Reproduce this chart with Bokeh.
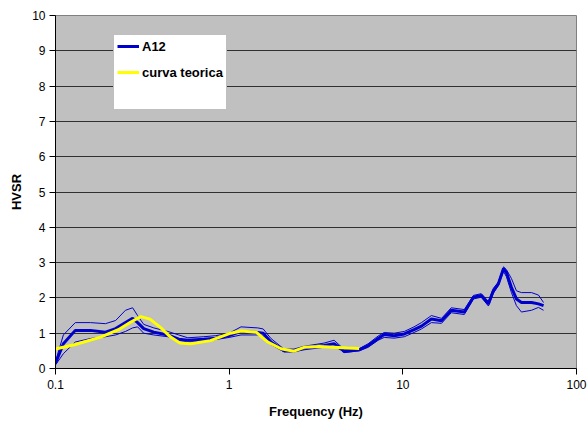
from bokeh.plotting import figure
from bokeh.models import (FixedTicker, CustomJSTickFormatter, Legend, LegendItem, Range1d)
from bokeh.embed import file_html
from bokeh.resources import INLINE

# ---- data ----
freq = [0.1, 0.111, 0.13, 0.159, 0.194, 0.222, 0.253, 0.278, 0.297, 0.322, 0.368, 0.443,
        0.513, 0.578, 0.715, 0.838, 1.0, 1.17, 1.46, 1.57, 1.74, 2.07, 2.36, 2.7, 3.52,
        4.02, 4.41, 4.59, 5.6, 6.31, 7.21, 7.81, 8.92, 10.2, 11.6, 12.8, 14.6, 16.7, 19.0,
        22.6, 25.5, 28.3, 31.1, 33.2, 35.5, 38.0, 39.5, 42.2, 45.1, 48.2, 55.1, 60.4, 64.6]
a12_mean = [0.15, 0.7, 1.08, 1.08, 1.03, 1.13, 1.3, 1.42, 1.3, 1.13, 1.03, 0.95,
            0.83, 0.8, 0.83, 0.86, 0.93, 1.05, 1.02, 1.0, 0.75, 0.5, 0.5, 0.58, 0.65,
            0.7, 0.57, 0.48, 0.53, 0.65, 0.85, 0.96, 0.93, 0.98, 1.1, 1.2, 1.4, 1.35, 1.65,
            1.6, 2.02, 2.07, 1.83, 2.2, 2.4, 2.83, 2.72, 2.3, 1.97, 1.87, 1.87, 1.83, 1.78]
a12_upper = [0.2, 0.95, 1.3, 1.3, 1.27, 1.36, 1.65, 1.72, 1.5, 1.25, 1.15, 1.05,
             0.95, 0.87, 0.9, 0.93, 1.0, 1.18, 1.15, 1.12, 0.85, 0.55, 0.55, 0.63, 0.72,
             0.8, 0.62, 0.53, 0.56, 0.7, 0.92, 1.02, 1.0, 1.05, 1.18, 1.3, 1.5, 1.42, 1.72,
             1.67, 2.07, 2.12, 1.9, 2.27, 2.45, 2.88, 2.8, 2.55, 2.2, 2.15, 2.15, 2.08, 1.87]
a12_lower = [0.1, 0.42, 0.75, 0.85, 0.9, 0.95, 1.05, 1.15, 1.18, 1.0, 0.95, 0.9,
             0.8, 0.75, 0.78, 0.82, 0.88, 0.95, 0.95, 0.92, 0.68, 0.47, 0.47, 0.53, 0.6,
             0.63, 0.52, 0.45, 0.5, 0.6, 0.8, 0.88, 0.86, 0.9, 1.02, 1.12, 1.3, 1.28, 1.58,
             1.53, 1.97, 2.02, 1.77, 2.13, 2.35, 2.75, 2.6, 2.15, 1.78, 1.6, 1.65, 1.73, 1.65]

theo_freq = [0.1, 0.13, 0.182, 0.23, 0.27, 0.31, 0.35, 0.4, 0.46, 0.52, 0.6, 0.78, 1.02,
             1.17, 1.43, 1.67, 1.99, 2.36, 2.7, 3.3, 4.0, 4.8, 5.6]
theo_hvsr = [0.55, 0.68, 0.89, 1.1, 1.31, 1.47, 1.4, 1.17, 0.89, 0.72, 0.7, 0.79, 1.0,
             1.06, 1.03, 0.75, 0.56, 0.49, 0.6, 0.62, 0.6, 0.58, 0.57]

x_ticks = [0.1, 1, 10, 100]
y_ticks = [0, 1, 2, 3, 4, 5, 6, 7, 8, 9, 10]
grid_ticks = [1, 2, 3, 4, 5, 6, 7, 8, 9]

FONT = "Liberation Sans"
BLUE = "#0000CC"
YELLOW = "#FFFF00"

p = figure(width=588, height=423, x_axis_type="log",
           x_range=Range1d(0.1, 100), y_range=Range1d(0, 10),
           output_backend="svg", toolbar_location=None,
           min_border_left=55, min_border_right=12, min_border_top=15, min_border_bottom=55)

p.background_fill_color = "#C0C0C0"
p.border_fill_color = "white"
p.outline_line_color = "#808080"
p.outline_line_width = 1

p.xgrid.visible = False
p.ygrid.ticker = FixedTicker(ticks=grid_ticks)
p.ygrid.grid_line_color = "#303030"
p.ygrid.grid_line_width = 1

# axes
p.xaxis.ticker = FixedTicker(ticks=x_ticks, minor_ticks=[])
p.xaxis.formatter = CustomJSTickFormatter(code="return tick.toString();")
p.yaxis.ticker = FixedTicker(ticks=y_ticks, minor_ticks=[])
for ax in (p.xaxis[0], p.yaxis[0]):
    ax.axis_line_color = "black"
    ax.axis_line_width = 1
    ax.major_tick_line_color = "black"
    ax.major_tick_out = 6
    ax.major_tick_in = 0
    ax.minor_tick_line_color = None
    ax.major_label_text_font = FONT
    ax.major_label_text_font_size = "12px"
    ax.major_label_text_color = "black"
    ax.axis_label_text_font = FONT
    ax.axis_label_text_font_size = "13px"
    ax.axis_label_text_font_style = "bold"
    ax.axis_label_text_color = "black"

p.xaxis.axis_label = "Frequency (Hz)"
p.xaxis.major_label_standoff = 5
p.xaxis.axis_label_standoff = 12
p.yaxis.axis_label = "HVSR"
p.yaxis.major_label_standoff = 4
p.yaxis.axis_label_standoff = 5

# lines
p.line(freq, a12_upper, line_color=BLUE, line_width=1)
p.line(freq, a12_lower, line_color=BLUE, line_width=1)
r_mean = p.line(freq, a12_mean, line_color=BLUE, line_width=3)
r_theo = p.line(theo_freq, theo_hvsr, line_color=YELLOW, line_width=3)
r_dummy = p.line([], [], line_alpha=0)

legend = Legend(items=[LegendItem(label="A12", renderers=[r_mean]),
                       LegendItem(label="curva teorica", renderers=[r_theo]),
                       LegendItem(label=" ", renderers=[r_dummy])],
                location=(58, 258))
legend.label_text_font = FONT
legend.label_text_font_size = "13px"
legend.label_text_font_style = "bold"
legend.label_text_color = "black"
legend.label_height = 16
legend.glyph_height = 16
legend.glyph_width = 22
legend.label_standoff = 3
legend.spacing = 10
legend.padding = 3
legend.margin = 0
legend.border_line_color = "#808080"
legend.border_line_width = 1
legend.background_fill_color = "white"
legend.background_fill_alpha = 1
p.add_layout(legend)

open("out.html", "w").write(file_html(p, INLINE))
